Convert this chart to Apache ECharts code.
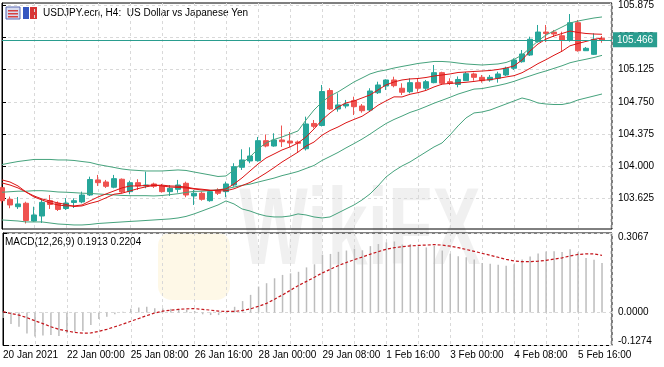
<!DOCTYPE html>
<html><head><meta charset="utf-8">
<script src="https://cdn.jsdelivr.net/npm/echarts@6/dist/echarts.min.js"></script>
<style>html,body{margin:0;padding:0;background:#fff}#c{width:664px;height:367px}</style>
</head><body><div id="c"></div>
<script>
const FONT = "'Liberation Sans',Arial,sans-serif";
const chartTitle = 'USDJPY.ecn, H4:  US Dollar vs Japanese Yen';
const macdTitle = 'MACD(12,26,9) 0.1913 0.2204';
const xTickLabels = ['20 Jan 2021','22 Jan 00:00','25 Jan 08:00','26 Jan 16:00','28 Jan 00:00','29 Jan 08:00','1 Feb 16:00','3 Feb 00:00','4 Feb 08:00','5 Feb 16:00'];
const priceTicks = [103.625,104.000,104.375,104.750,105.125,105.500,105.875];
const macdTicks = [-0.1274,0,0.3067];
const lastPrice = 105.466;

const open = [103.753,103.618,103.532,103.572,103.366,103.424,103.602,103.572,103.511,103.581,
103.587,103.668,103.843,103.819,103.758,103.851,103.707,103.811,103.773,103.796,
103.773,103.707,103.734,103.804,103.657,103.688,103.602,103.718,103.707,103.784,
103.990,104.063,104.067,104.299,104.237,104.307,104.295,104.284,104.205,104.499,
104.475,104.882,104.667,104.702,104.764,104.702,104.655,104.856,104.934,105.004,
104.908,104.868,104.973,104.908,104.973,105.089,104.984,104.952,104.996,105.074,
105.035,105.004,105.024,105.062,105.140,105.216,105.294,105.449,105.561,105.561,
105.518,105.468,105.669,105.344,105.302,105.488];
const high = [103.773,103.649,103.645,103.590,103.532,103.622,103.668,103.593,103.633,103.630,
103.707,103.881,103.901,103.843,103.901,103.860,103.834,103.851,103.939,103.811,
103.796,103.784,103.843,103.823,103.726,103.707,103.726,103.746,103.823,104.037,
104.199,104.222,104.342,104.371,104.385,104.475,104.400,104.301,104.578,104.539,
104.946,104.908,104.849,104.772,104.810,104.725,104.908,104.984,105.012,105.042,
104.966,105.024,105.024,105.004,105.178,105.100,105.024,105.045,105.097,105.089,
105.062,105.062,105.100,105.158,105.256,105.352,105.507,105.643,105.643,105.585,
105.565,105.770,105.701,105.387,105.546,105.515];
const low = [103.572,103.514,103.506,103.337,103.358,103.343,103.506,103.482,103.494,103.517,
103.572,103.657,103.773,103.750,103.746,103.688,103.676,103.726,103.746,103.750,
103.695,103.657,103.695,103.642,103.552,103.602,103.590,103.668,103.642,103.765,
103.959,104.037,104.055,104.222,104.229,104.226,104.226,104.156,104.185,104.443,
104.464,104.655,104.636,104.675,104.597,104.624,104.636,104.841,104.888,104.919,
104.830,104.849,104.868,104.888,104.966,104.946,104.946,104.919,104.992,104.996,
104.973,104.984,104.973,105.050,105.120,105.205,105.283,105.437,105.445,105.503,
105.333,105.449,105.333,105.341,105.294,105.437];
const close = [103.602,103.552,103.564,103.372,103.436,103.583,103.558,103.500,103.575,103.602,
103.668,103.848,103.811,103.769,103.858,103.703,103.811,103.773,103.784,103.769,
103.707,103.746,103.784,103.668,103.688,103.618,103.707,103.688,103.796,103.997,
104.075,104.121,104.299,104.237,104.307,104.287,104.272,104.269,104.493,104.466,
104.870,104.667,104.714,104.725,104.694,104.647,104.876,104.946,105.004,104.938,
104.861,104.973,104.908,104.984,105.089,104.966,104.966,105.010,105.077,105.035,
104.996,105.035,105.074,105.140,105.236,105.306,105.477,105.561,105.544,105.538,
105.468,105.669,105.344,105.372,105.477,105.466];

const bbUpper = [104.022,104.040,104.057,104.069,104.081,104.081,104.081,104.075,104.075,104.069,
104.057,104.046,104.022,104.005,103.988,103.970,103.959,103.953,103.947,103.947,
103.947,103.953,103.959,103.953,103.935,103.918,103.901,103.883,103.889,103.959,
104.040,104.110,104.203,104.272,104.313,104.342,104.377,104.412,104.539,104.655,
104.748,104.818,104.865,104.923,104.981,105.027,105.074,105.103,105.120,105.143,
105.161,105.178,105.196,105.207,105.219,105.219,105.213,105.201,105.190,105.184,
105.178,105.184,105.190,105.207,105.242,105.294,105.376,105.457,105.527,105.573,
105.619,105.666,105.689,105.707,105.724,105.736];
const bbMiddle = [103.700,103.706,103.712,103.712,103.718,103.718,103.712,103.703,103.700,103.695,
103.689,103.686,103.680,103.674,103.669,103.663,103.660,103.660,103.660,103.657,
103.662,103.672,103.683,103.698,103.710,103.712,103.719,103.729,103.740,103.760,
103.780,103.794,103.818,103.841,103.864,103.893,103.916,103.941,103.976,104.011,
104.069,104.115,104.162,104.215,104.265,104.317,104.375,104.438,104.498,104.545,
104.585,104.627,104.658,104.695,104.734,104.768,104.803,104.840,104.869,104.898,
104.904,104.922,104.940,104.961,104.988,105.021,105.051,105.082,105.109,105.139,
105.169,105.204,105.226,105.245,105.265,105.290];
const bbLower = [103.378,103.372,103.366,103.355,103.355,103.355,103.343,103.331,103.326,103.320,
103.320,103.326,103.337,103.343,103.349,103.355,103.361,103.366,103.372,103.378,
103.384,103.390,103.401,103.419,103.448,103.482,103.517,103.552,103.599,103.564,
103.506,103.482,103.448,103.424,103.413,103.413,103.424,103.448,103.436,103.413,
103.401,103.413,103.459,103.506,103.552,103.610,103.680,103.773,103.877,103.947,
104.005,104.052,104.110,104.168,104.226,104.272,104.365,104.470,104.563,104.621,
104.632,104.655,104.690,104.725,104.760,104.795,104.772,104.737,104.725,104.719,
104.719,104.737,104.772,104.795,104.818,104.841];
const maFast = [103.843,103.819,103.773,103.703,103.645,103.610,103.575,103.552,103.541,103.541,
103.552,103.599,103.645,103.680,103.715,103.750,103.773,103.773,103.779,103.784,
103.773,103.761,103.755,103.750,103.738,103.726,103.721,103.726,103.738,103.796,
103.866,103.947,104.028,104.098,104.144,104.191,104.226,104.272,104.342,104.435,
104.539,104.621,104.690,104.737,104.760,104.795,104.830,104.888,104.946,104.981,
105.004,105.016,105.021,105.033,105.050,105.062,105.074,105.091,105.097,105.103,
105.108,105.114,105.126,105.143,105.167,105.236,105.341,105.422,105.480,105.515,
105.544,105.573,105.556,105.544,105.538,105.535];
const maSlow = [103.808,103.784,103.750,103.703,103.657,103.622,103.599,103.575,103.558,103.534,
103.541,103.571,103.595,103.635,103.677,103.689,103.715,103.742,103.763,103.779,
103.783,103.773,103.770,103.760,103.743,103.735,103.724,103.716,103.717,103.740,
103.777,103.814,103.866,103.923,103.985,104.051,104.108,104.166,104.236,104.283,
104.362,104.417,104.458,104.507,104.546,104.582,104.642,104.710,104.761,104.808,
104.807,104.838,104.857,104.883,104.923,104.955,104.964,104.970,104.977,104.987,
105.000,105.007,105.023,105.039,105.054,105.088,105.139,105.194,105.240,105.291,
105.338,105.401,105.428,105.452,105.476,105.492];
const macdMain = [-0.021,-0.044,-0.055,-0.081,-0.093,-0.089,-0.087,-0.091,-0.080,-0.074,
-0.071,-0.048,-0.025,-0.016,-0.007,0.003,0.014,0.019,0.022,0.016,
0.016,0.014,0.014,0.010,0.006,-0.007,-0.010,-0.010,-0.001,0.022,
0.044,0.068,0.100,0.113,0.132,0.145,0.151,0.157,0.174,0.186,
0.223,0.226,0.234,0.239,0.246,0.240,0.256,0.264,0.271,0.274,
0.262,0.264,0.255,0.251,0.257,0.239,0.227,0.217,0.213,0.204,
0.191,0.188,0.184,0.180,0.186,0.204,0.216,0.228,0.235,0.236,
0.233,0.244,0.232,0.210,0.203,0.1913];
const macdSignal = [0.003,-0.004,-0.010,-0.020,-0.032,-0.043,-0.055,-0.065,
-0.071,-0.077,-0.080,-0.079,-0.073,-0.065,-0.055,-0.045,-0.034,-0.023,
-0.012,-0.002,0.005,0.009,0.012,0.014,0.015,0.012,0.009,0.005,
0.004,0.004,0.008,0.014,0.024,0.035,0.051,0.068,0.086,0.104,
0.120,0.136,0.153,0.167,0.181,0.193,0.204,0.214,0.225,0.235,
0.244,0.250,0.254,0.257,0.259,0.260,0.262,0.260,0.256,0.250,
0.243,0.236,0.228,0.221,0.213,0.205,0.199,0.196,0.196,0.198,
0.201,0.206,0.211,0.218,0.224,0.226,0.226,0.2204];

const pair = arr => arr.map((v, i) => [i, v]);
const candleData = open.map((o, i) => [i, o, close[i], low[i], high[i]]);

const GREEN = '#26a69a', RED = '#ef5350', BAND = '#46a37d', MA = '#dc1414', TEAL = '#2a9d8f';
const AX = 10;
const gridLine = {show: true, lineStyle: {color: '#d9d9d9', type: [3, 3], width: 1}};
const lineS = (data, color, x, y, extra) => Object.assign({
  type: 'line', data: pair(data), xAxisIndex: x, yAxisIndex: y, showSymbol: false, symbol: 'none',
  lineStyle: {color: color, width: 1}, itemStyle: {color: color}, silent: true, z: 3
}, extra || {});

const chart = echarts.init(document.getElementById('c'), null, {renderer: 'canvas'});
chart.setOption({
  animation: false,
  backgroundColor: '#fff',
  textStyle: {fontFamily: FONT},
  grid: [
    {left: 2, right: 52, top: 3, height: 226, show: true, borderColor: '#000', borderWidth: 1, backgroundColor: 'transparent'},
    {left: 2, right: 52, top: 233, height: 112.5, show: true, borderColor: '#000', borderWidth: 1, backgroundColor: 'transparent'}
  ],
  xAxis: [
    {type: 'value', gridIndex: 0, min: 0, max: 76.25, interval: 4,
     axisLine: {show: false}, axisTick: {show: false}, axisLabel: {show: false}, splitLine: gridLine},
    {type: 'value', gridIndex: 1, min: 0, max: 76.25, interval: 4,
     axisLine: {show: false}, axisTick: {show: false},
     axisLabel: {show: true, color: '#000', fontSize: AX, fontFamily: FONT, align: 'left', margin: 5, hideOverlap: false,
       formatter: v => (v % 8 === 0 && v / 8 < xTickLabels.length) ? xTickLabels[v / 8] : ''},
     splitLine: gridLine}
  ],
  yAxis: [
    {type: 'value', gridIndex: 0, position: 'right', min: 103.273, max: 105.898,
     axisLine: {show: true, lineStyle: {color: '#000'}},
     axisTick: {show: true, customValues: priceTicks, length: 4, lineStyle: {color: '#000'}},
     axisLabel: {customValues: priceTicks, color: '#000', fontSize: AX, fontFamily: FONT, margin: 6,
       formatter: v => v.toFixed(3)},
     splitLine: gridLine},
    {type: 'value', gridIndex: 1, position: 'right', min: -0.1274, max: 0.3067,
     axisLine: {show: true, lineStyle: {color: '#000'}},
     axisTick: {show: true, customValues: macdTicks, length: 4, lineStyle: {color: '#000'}},
     axisLabel: {customValues: macdTicks, color: '#000', fontSize: AX, fontFamily: FONT, margin: 6,
       formatter: v => v > 0.3 ? '{t|' + v.toFixed(4) + '}' : (v < -0.1 ? '{b|' + v.toFixed(4) + '}' : v.toFixed(4)),
       rich: {t: {padding: [9, 0, 0, 0], fontSize: AX, fontFamily: FONT, color: '#000'},
              b: {padding: [0, 0, 9, 0], fontSize: AX, fontFamily: FONT, color: '#000'}}},
     splitLine: gridLine}
  ],
  graphic: [
    {type: 'text', z: -10, silent: true,
     style: {x: 360, y: 234, text: 'WikiFX', fontSize: 110, fontWeight: 'bold', fontFamily: 'Liberation Sans',
       fill: 'rgba(0,0,0,0.06)', textAlign: 'center', textVerticalAlign: 'middle'},
     scaleX: 0.66, originX: 360, originY: 234},
    {type: 'rect', z: -10, silent: true, shape: {x: 158, y: 232, width: 72, height: 68, r: 14},
     style: {fill: 'rgba(250,200,70,0.13)'}},
    {type: 'rect', silent: true, shape: {x: 6, y: 7, width: 14, height: 12}, style: {fill: '#d8dcef', stroke: '#5b6bb5', lineWidth: 1}},
    {type: 'rect', silent: true, shape: {x: 8, y: 10, width: 10, height: 1.5}, style: {fill: '#d84040'}},
    {type: 'rect', silent: true, shape: {x: 8, y: 13, width: 10, height: 1.5}, style: {fill: '#d84040'}},
    {type: 'rect', silent: true, shape: {x: 8, y: 16, width: 10, height: 1.5}, style: {fill: '#d84040'}},
    {type: 'rect', silent: true, shape: {x: 23, y: 7, width: 6, height: 12}, style: {fill: '#3556c0'}},
    {type: 'rect', silent: true, shape: {x: 30, y: 7, width: 7, height: 12}, style: {fill: '#d83535'}},
    {type: 'text', silent: true, style: {x: 43, y: 13, text: chartTitle, fontSize: 10, fontFamily: FONT, fill: '#000', textVerticalAlign: 'middle'}},
    {type: 'text', silent: true, style: {x: 5, y: 242, text: macdTitle, fontSize: 10, fontFamily: FONT, fill: '#000', textVerticalAlign: 'middle'}}
  ],
  series: [
    {type: 'candlestick', name: 'USDJPY', xAxisIndex: 0, yAxisIndex: 0, data: candleData, barWidth: 5, z: 2,
     itemStyle: {color: GREEN, color0: RED, borderColor: GREEN, borderColor0: RED, borderWidth: 1},
     markLine: {silent: true, symbol: 'none', animation: false,
       data: [{yAxis: lastPrice}],
       lineStyle: {color: TEAL, type: 'solid', width: 1},
       label: {show: true, position: 'end', distance: 1, formatter: lastPrice.toFixed(3), color: '#fff',
         backgroundColor: TEAL, padding: [3, 4, 2, 4], fontSize: AX, fontFamily: FONT}}},
    lineS(bbUpper, BAND, 0, 0),
    lineS(bbMiddle, BAND, 0, 0),
    lineS(bbLower, BAND, 0, 0),
    lineS(maSlow, MA, 0, 0),
    lineS(maFast, MA, 0, 0),
    {type: 'bar', name: 'MACD', xAxisIndex: 1, yAxisIndex: 1, data: pair(macdMain), barWidth: 1.5,
     itemStyle: {color: '#bdbdbd'}, silent: true, z: 2},
    lineS(macdSignal, '#c4161c', 1, 1, {lineStyle: {color: '#c4161c', width: 1.2, type: [3, 2]}})
  ]
});
</script>
</body></html>
